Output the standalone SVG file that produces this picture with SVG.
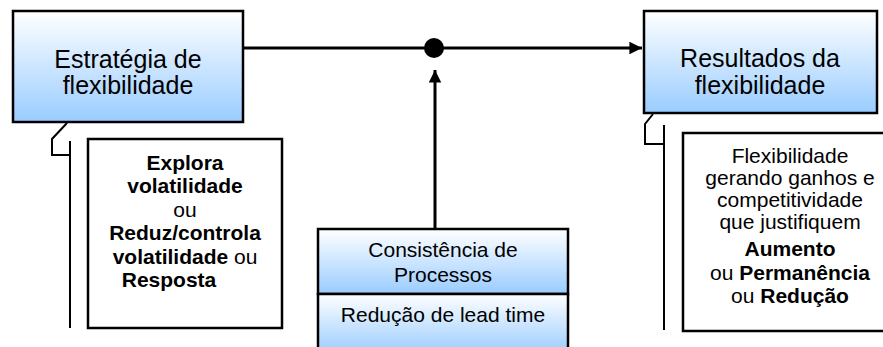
<svg xmlns="http://www.w3.org/2000/svg" width="883" height="347" viewBox="0 0 883 347">
<style>
.box{stroke:#000;stroke-width:2.5;fill:url(#g)}
.plain{stroke:#000;stroke-width:2.5;fill:#fff}
.br{stroke:#000;stroke-width:2;fill:none}
.t{font-family:"Liberation Sans",Arial,sans-serif;text-anchor:middle;fill:#000}
.big{font-size:25px}
.mid{font-size:21px}
.b{font-weight:bold}
.conn{stroke:#000;stroke-width:3;fill:none}
</style>
<defs>
<linearGradient id="g" x1="0" y1="0" x2="0" y2="1">
<stop offset="0" stop-color="#ffffff"/>
<stop offset="1" stop-color="#99ccff"/>
</linearGradient>
<marker id="ah" viewBox="0 0 10 10" refX="10" refY="5" markerWidth="4.2" markerHeight="4.2" orient="auto" markerUnits="strokeWidth">
<path d="M0,0 L10,5 L0,10 z" fill="#000"/>
</marker>
</defs>
<rect width="883" height="347" fill="#fff"/>
<g id="connectors">
<line class="conn" x1="243" y1="48" x2="642" y2="48" marker-end="url(#ah)"/>
<line class="conn" x1="435" y1="229" x2="435" y2="70" marker-end="url(#ah)"/>
<circle cx="434" cy="48" r="10" fill="#000"/>
<path class="br" d="M67,123 L52,139 L52,155 L70,155"/>
<line class="br" x1="70" y1="141" x2="70" y2="328"/>
<path class="br" d="M653,114 L645,124 L645,144 L664,144"/>
<line class="br" x1="664" y1="125" x2="664" y2="330"/>
</g>
<g id="estrategia">
<rect class="box" x="13" y="11" width="230" height="111"/>
<text class="t big" x="128" y="68">Estratégia de</text>
<text class="t big" x="128" y="94">flexibilidade</text>
</g>
<g id="resultados">
<rect class="box" x="644" y="11" width="233" height="102"/>
<text class="t big" x="760" y="67">Resultados da</text>
<text class="t big" x="760" y="94">flexibilidade</text>
</g>
<g id="explora">
<rect class="plain" x="88" y="139" width="194" height="189"/>
<text class="t mid b" x="185" y="170">Explora</text>
<text class="t mid b" x="185" y="193">volatilidade</text>
<text class="t mid" x="185" y="217">ou</text>
<text class="t mid b" x="185" y="240">Reduz/controla</text>
<text class="t mid" x="185" y="264"><tspan class="b">volatilidade</tspan> ou</text>
<text class="t mid b" x="169" y="287">Resposta</text>
</g>
<g id="flexibilidade-ganhos">
<rect class="plain" x="683" y="133" width="210" height="198"/>
<text class="t mid" x="790" y="163">Flexibilidade</text>
<text class="t mid" x="790" y="185">gerando ganhos e</text>
<text class="t mid" x="790" y="207">competitividade</text>
<text class="t mid" x="790" y="229">que justifiquem</text>
<text class="t mid b" x="790" y="256">Aumento</text>
<text class="t mid" x="790" y="280">ou <tspan class="b">Permanência</tspan></text>
<text class="t mid" x="790" y="303">ou <tspan class="b">Redução</tspan></text>
</g>
<g id="consistencia">
<rect class="box" x="318" y="229" width="250" height="65"/>
<text class="t mid" x="443" y="257">Consistência de</text>
<text class="t mid" x="443" y="282">Processos</text>
</g>
<g id="lead-time">
<rect class="box" x="318" y="294" width="250" height="60"/>
<text class="t mid" x="443" y="322">Redução de lead time</text>
</g>
</svg>
